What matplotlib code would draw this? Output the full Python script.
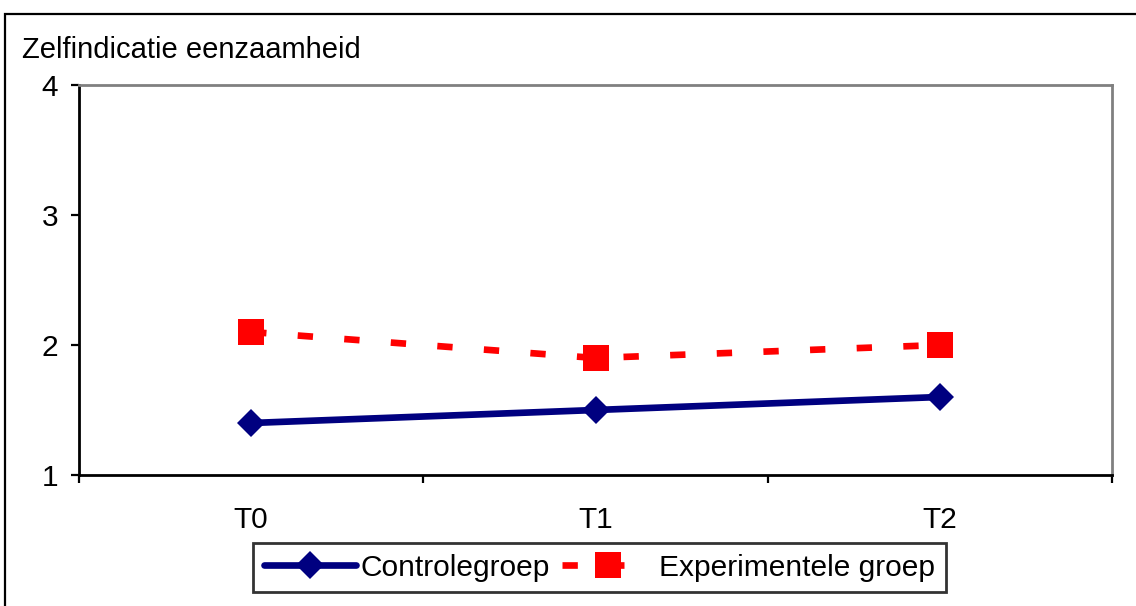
import matplotlib
matplotlib.use("Agg")
import matplotlib.pyplot as plt
from matplotlib.patches import Rectangle

# data
time_points = ["T0", "T1", "T2"]
controle = [1.4, 1.5, 1.6]
experimenteel = [2.1, 1.9, 2.0]
y_ticks = [1, 2, 3, 4]

W_PX, H_PX, DPI = 1136, 606, 100
FS = 21.5

plt.rcParams["font.family"] = ["Liberation Sans", "DejaVu Sans"]

fig = plt.figure(figsize=(W_PX / DPI, H_PX / DPI), dpi=DPI)
ax = fig.add_axes([79 / W_PX, 1 - 475 / H_PX, (1112 - 79) / W_PX, (475 - 85) / H_PX])

x = list(range(len(time_points)))
ax.plot(x, controle, color="#000080", linewidth=4.8, marker="D",
        markersize=14.5, markeredgewidth=0, label="Controlegroep",
        solid_capstyle="round", zorder=3)
ax.plot(x, experimenteel, color="#FF0000", linewidth=4.8, marker="s",
        markersize=18.5, markeredgewidth=0, dashes=(2.3, 4.7),
        label="Experimentele groep", zorder=3)

ax.set_xlim(-0.5, len(time_points) - 0.5)
ax.set_ylim(1, 4)

# category boundary ticks (major), labels at centres (minor)
ax.set_xticks([i - 0.5 for i in range(len(time_points) + 1)])
ax.set_xticklabels([])
ax.set_xticks(x, minor=True)
ax.set_xticklabels(time_points, minor=True, fontsize=FS)
ax.tick_params(axis="x", which="major", direction="out", length=6, width=1.6, color="black")
ax.tick_params(axis="x", which="minor", length=0, pad=22)

ax.set_yticks(y_ticks)
ax.set_yticklabels([str(v) for v in y_ticks], fontsize=FS)
ax.tick_params(axis="y", direction="out", length=6, width=1.6, pad=9, color="black")

for side in ("top", "right"):
    ax.spines[side].set_color("#808080")
    ax.spines[side].set_linewidth(2)
for side in ("left", "bottom"):
    ax.spines[side].set_color("black")
    ax.spines[side].set_linewidth(2)

fig.text(22 / W_PX, 1 - 58 / H_PX, "Zelfindicatie eenzaamheid",
         fontsize=21, va="baseline", ha="left")

leg = fig.legend(loc="center", bbox_to_anchor=(599.5 / W_PX, 1 - 567.5 / H_PX),
                 ncol=2, fontsize=FS, frameon=True, fancybox=False,
                 edgecolor="black", handlelength=3.1, handletextpad=0.15,
                 columnspacing=0.4, borderpad=0.35, borderaxespad=0)
leg.get_frame().set_linewidth(2)

# outer chart border
fig.patches.append(Rectangle((5 / W_PX, -0.05), 1.2, 1 - 14 / H_PX + 0.05,
                             transform=fig.transFigure, fill=False,
                             edgecolor="black", linewidth=1.6))

fig.savefig("out.png", dpi=DPI)
